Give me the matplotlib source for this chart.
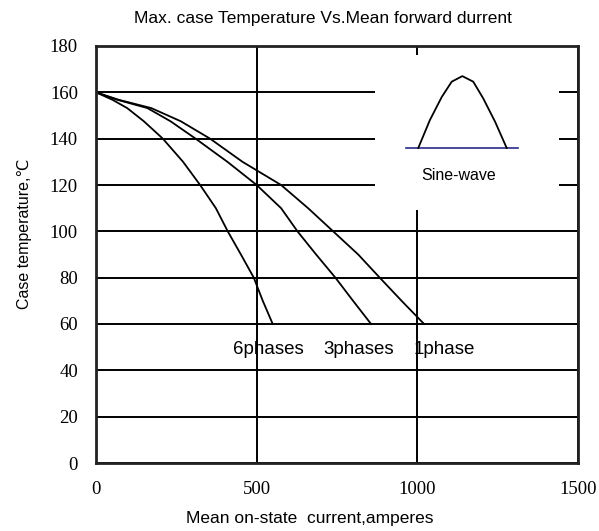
import matplotlib
matplotlib.use("Agg")
import matplotlib.pyplot as plt
from matplotlib.patches import Rectangle

# curves: current (A) vs case temperature (degC)
cur_6ph = [0, 51, 97, 149, 208, 271, 324, 373, 410, 451, 491, 519, 550]
tmp_6ph = [160, 156.8, 153.2, 147.5, 140, 130, 120, 110, 100, 90, 80, 70, 60]
cur_3ph = [0, 66, 160, 232, 310, 409, 500, 576, 627, 685, 745, 800, 856]
tmp_3ph = [160, 156.8, 153.2, 147.5, 140, 130, 120, 110, 100, 90, 80, 70, 60]
cur_1ph = [0, 70, 172, 264, 355, 456, 576, 660, 738, 816, 883, 951, 1021]
tmp_1ph = [160, 156.8, 153.2, 147.5, 140, 130, 120, 110, 100, 90, 80, 70, 60]

# little sine-wave icon (in data units of the main axes)
icon_x = [1003, 1039, 1076, 1107, 1140, 1174, 1205, 1242, 1278]
icon_y = [136, 148, 158, 164.6, 167, 164.6, 157.4, 147.3, 136]
icon_base_x = [964, 1312]
icon_base_y = [136, 136]

xticks = [0, 500, 1000, 1500]
yticks = [0, 20, 40, 60, 80, 100, 120, 140, 160, 180]

SANS = ["Liberation Sans", "DejaVu Sans"]
SERIF = ["Liberation Serif", "DejaVu Serif"]

fig = plt.figure(figsize=(5.99, 5.31), dpi=100)
ax = fig.add_axes([96 / 599, 68 / 531, 482 / 599, 417 / 531])

ax.set_xlim(0, 1500)
ax.set_ylim(0, 180)
ax.set_xticks(xticks)
ax.set_yticks(yticks)
ax.tick_params(length=0, pad=13, labelsize=13.5)
for lab in ax.get_xticklabels() + ax.get_yticklabels():
    lab.set_fontfamily(SERIF)

ax.set_axisbelow(True)
ax.grid(True, color="black", lw=1.4)
for sp in ax.spines.values():
    sp.set_linewidth(2)
    sp.set_color("#222222")

# white panel that hides the grid behind the waveform icon
ax.add_patch(Rectangle((868, 109), 573, 67, facecolor="white",
                       edgecolor="none", zorder=1))

for xs, ys in [(cur_6ph, tmp_6ph), (cur_3ph, tmp_3ph), (cur_1ph, tmp_1ph)]:
    ax.plot(xs, ys, color="black", lw=1.3, zorder=2, solid_joinstyle="round")

ax.plot(icon_base_x, icon_base_y, color="#2a2a8a", lw=1.2, zorder=2)
ax.plot(icon_x, icon_y, color="black", lw=1.3, zorder=2, solid_joinstyle="round")
ax.text(1130, 124, "Sine-wave", ha="center", va="center", fontsize=11.5,
        family=SANS, zorder=3)

ax.text(426, 48.8, "6phases", ha="left", va="center", fontsize=13.5, family=SANS)
ax.text(706, 48.8, "3phases", ha="left", va="center", fontsize=13.5, family=SANS)
ax.text(987, 48.8, "1phase", ha="left", va="center", fontsize=13.5, family=SANS)

fig.text(323 / 599, 1 - 18 / 531,
         "Max. case Temperature Vs.Mean forward durrent",
         ha="center", va="center", fontsize=12.5, family=SANS)
fig.text(310 / 599, 1 - 518 / 531, "Mean on-state  current,amperes",
         ha="center", va="center", fontsize=12.5, family=SANS)
fig.text(25 / 599, 1 - 234 / 531, "Case temperature,\u2103", rotation=90,
         ha="center", va="center", fontsize=11.5, family=SANS)

fig.savefig("out.png", dpi=100)
